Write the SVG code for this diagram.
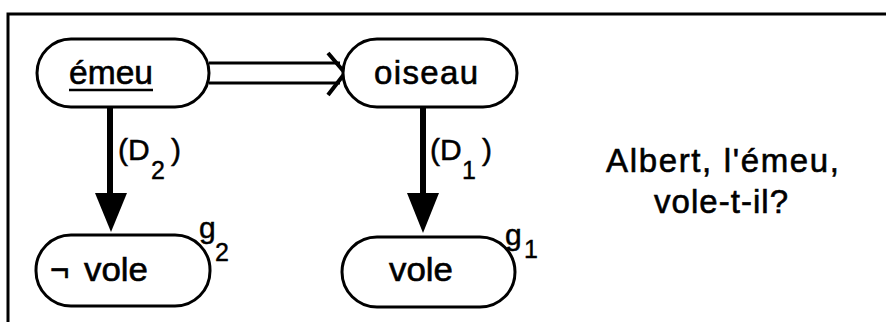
<svg xmlns="http://www.w3.org/2000/svg" width="886" height="322" viewBox="0 0 886 322">
<style>
.pill{fill:#fff;stroke:#000;stroke-width:3}
.t{font-family:"Liberation Sans",Arial,Helvetica,sans-serif;font-size:33px;fill:#000;stroke:#000;stroke-width:0.6}
.l{font-family:"Liberation Sans",Arial,Helvetica,sans-serif;font-size:30px;fill:#000;stroke:#000;stroke-width:0.5}
.s{font-family:"Liberation Sans",Arial,Helvetica,sans-serif;font-size:25px;fill:#000;stroke:#000;stroke-width:0.4}
.ln{stroke:#000;fill:none}
</style>
<rect width="886" height="322" fill="#fff"/>
<g id="frame">
<path class="ln" stroke-width="3" d="M8,322 L8,14 L886,14"/>
</g>
<g id="connectors">
<line class="ln" x1="209" y1="63" x2="340" y2="63" stroke-width="3"/>
<line class="ln" x1="209" y1="83" x2="340" y2="83" stroke-width="3"/>
<polyline class="ln" points="328,53 345,73 328,95" stroke-width="4"/>
<line class="ln" x1="110" y1="107" x2="110" y2="195" stroke-width="6"/>
<path d="M95,193 L127,193 L111,232 Z" fill="#000"/>
<line class="ln" x1="423" y1="107" x2="423" y2="195" stroke-width="6"/>
<path d="M407,193 L439,193 L423,233 Z" fill="#000"/>
<text class="l"><tspan x="118" y="160">(</tspan><tspan x="128" y="160">D</tspan><tspan class="s" x="151" y="179">2</tspan><tspan x="171" y="160">)</tspan></text>
<text class="l"><tspan x="430" y="160">(</tspan><tspan x="440" y="160">D</tspan><tspan class="s" x="462" y="179">1</tspan><tspan x="482" y="160">)</tspan></text>
</g>
<g id="emeu">
<rect class="pill" x="37" y="39" width="172" height="68" rx="34"/>
<text class="t" x="69" y="84" textLength="84" lengthAdjust="spacingAndGlyphs">émeu</text>
<line class="ln" x1="69" y1="90" x2="153" y2="90" stroke-width="2.5"/>
</g>
<g id="oiseau">
<rect class="pill" x="343" y="39" width="174" height="68" rx="34"/>
<text class="t" x="374" y="84" textLength="104" lengthAdjust="spacing">oiseau</text>
</g>
<g id="non-vole">
<rect class="pill" x="36" y="235" width="174" height="71" rx="35"/>
<text class="t" x="50" y="281">¬</text>
<text class="t" x="84" y="281" textLength="64" lengthAdjust="spacingAndGlyphs">vole</text>
<text class="l" x="199" y="238">g</text>
<text class="s" x="215" y="261">2</text>
</g>
<g id="vole">
<rect class="pill" x="342" y="237" width="173" height="70" rx="35"/>
<text class="t" x="389" y="281" textLength="64" lengthAdjust="spacingAndGlyphs">vole</text>
<text class="l" x="505" y="245">g</text>
<text class="s" x="524" y="258">1</text>
</g>
<g id="question">
<text class="t" x="606" y="172" textLength="233" lengthAdjust="spacing">Albert,  l'émeu,</text>
<text class="t" x="654" y="213" textLength="134" lengthAdjust="spacing">vole-t-il?</text>
</g>
</svg>
